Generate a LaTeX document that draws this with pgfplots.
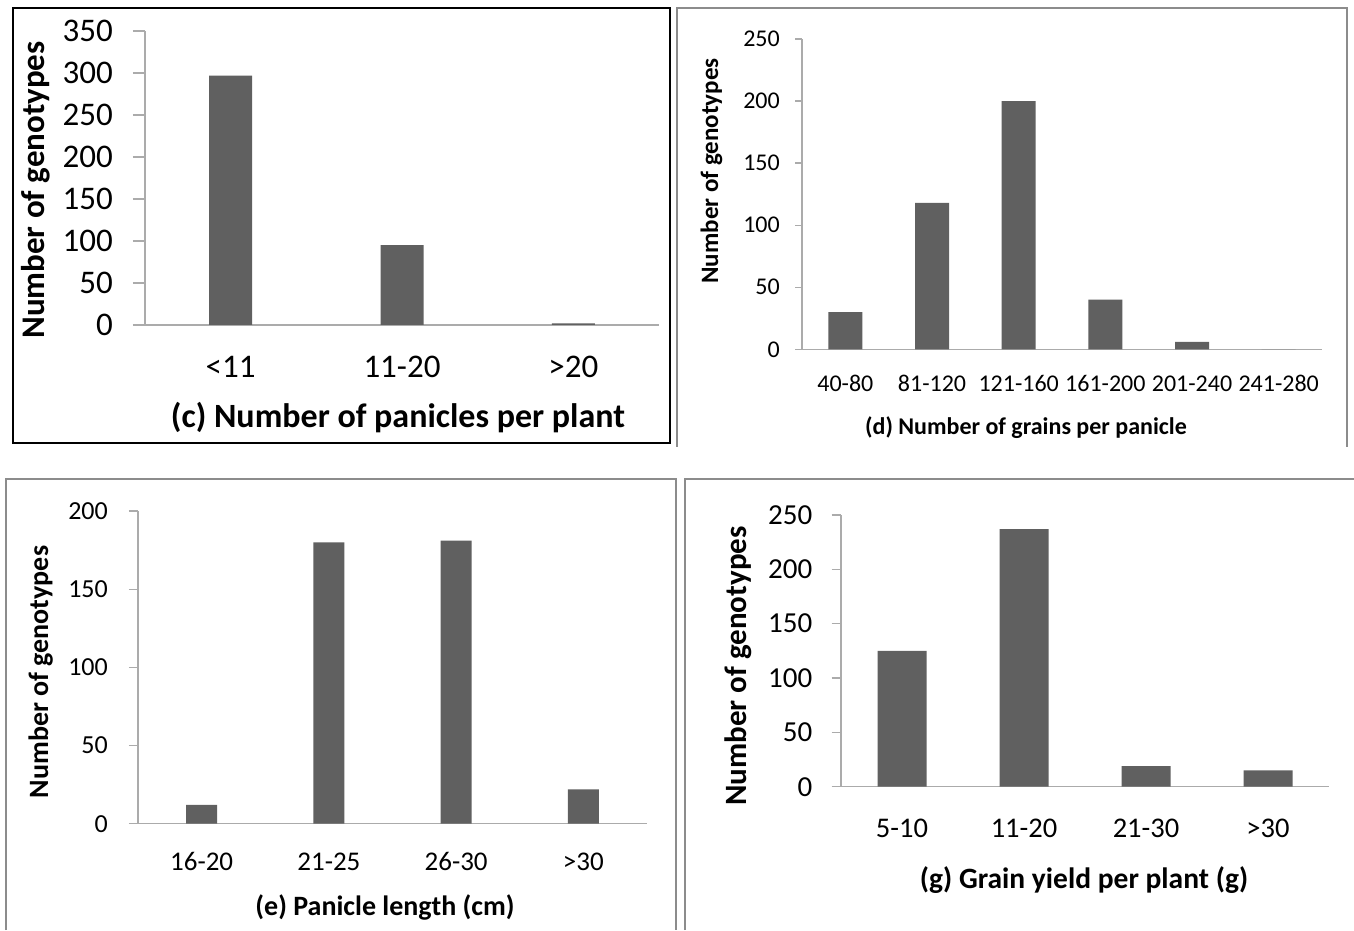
\documentclass[border=0pt]{standalone}
\usepackage{fontspec}
\setmainfont{Carlito}
\usepackage{pgfplots}
\pgfplotsset{compat=1.18}
\definecolor{barc}{HTML}{606060}
\definecolor{axg}{HTML}{ABABAB}
\definecolor{frm}{HTML}{8C8C8C}
\pgfplotsset{panel/.style={
  scale only axis, anchor=south west, clip=false,
  axis lines=left, axis line style={-, draw=axg, line width=1.3pt},
  ymin=0, ybar,
  tick align=outside,
  xtick style={draw=none},
  ytick style={draw=axg, line width=1.3pt},
  /pgf/number format/assume math mode=true,
}}
\begin{document}
\begin{tikzpicture}
\fill[white] (0pt,0pt) rectangle (1354pt,930pt);
% frames
\draw[black, line width=1.2pt] (13pt,922pt) rectangle (670pt,487pt);
\draw[frm, line width=2.5pt] (677pt,483pt) -- (677pt,922pt) -- (1347pt,922pt) -- (1347pt,483pt);
\draw[frm, line width=2.5pt] (6pt,0pt) -- (6pt,451pt) -- (676pt,451pt) -- (676pt,0pt);
\draw[frm, line width=2.5pt] (685pt,0pt) -- (685pt,451pt) -- (1354pt,451pt);

% (c)
\begin{axis}[panel, at={(145pt,605pt)}, width=514pt, height=294pt,
  xmin=-0.5, xmax=2.5, ymax=350, ytick={0,50,...,350},
  bar width=43pt, major tick length=12pt,
  xtick={0,1,2}, xticklabels={{<11},{11-20},{>20}},
  yticklabel style={font=\fontsize{33}{36}\selectfont, anchor=east, inner sep=0pt, xshift=-20pt},
  xticklabel style={font=\fontsize{33}{36}\selectfont, anchor=base, inner sep=0pt, yshift=-41pt}]
\addplot[fill=barc, draw=none] coordinates {(0,297) (1,95) (2,2)};
\end{axis}
\node[font=\bfseries\fontsize{34}{40}\selectfont, anchor=base] at (398pt,502pt) {(c) Number of panicles per plant};
\node[font=\bfseries\fontsize{33}{40}\selectfont, rotate=90, anchor=base] at (44pt,740pt) {Number of genotypes};

% (d)
\begin{axis}[panel, at={(802pt,580.7pt)}, width=520pt, height=310.3pt,
  xmin=-0.5, xmax=5.5, ymax=250, ytick={0,50,...,250},
  bar width=34pt, major tick length=7pt,
  xtick={0,...,5}, xticklabels={40-80,81-120,121-160,161-200,201-240,241-280},
  yticklabel style={font=\fontsize{24}{28}\selectfont, anchor=east, inner sep=0pt, xshift=-15pt},
  xticklabel style={font=\fontsize{24}{28}\selectfont, anchor=base, inner sep=0pt, yshift=-35pt}]
\addplot[fill=barc, draw=none] coordinates {(0,30) (1,118) (2,200) (3,40) (4,6) (5,0)};
\end{axis}
\node[font=\bfseries\fontsize{24}{28}\selectfont, anchor=base] at (1026pt,495pt) {(d) Number of grains per panicle};
\node[font=\bfseries\fontsize{25}{28}\selectfont, rotate=90, anchor=base] at (718pt,759pt) {Number of genotypes};

% (e)
\begin{axis}[panel, at={(138pt,106.3pt)}, width=509pt, height=312.7pt,
  xmin=-0.5, xmax=3.5, ymax=200, ytick={0,50,...,200},
  bar width=31pt, major tick length=9pt,
  xtick={0,...,3}, xticklabels={16-20,21-25,26-30,{>30}},
  yticklabel style={font=\fontsize{26}{30}\selectfont, anchor=east, inner sep=0pt, xshift=-21pt},
  xticklabel style={font=\fontsize{27}{30}\selectfont, anchor=base, inner sep=0pt, yshift=-38pt}]
\addplot[fill=barc, draw=none] coordinates {(0,12) (1,180) (2,181) (3,22)};
\end{axis}
\node[font=\bfseries\fontsize{28}{32}\selectfont, anchor=base] at (385pt,15pt) {(e) Panicle length (cm)};
\node[font=\bfseries\fontsize{28}{32}\selectfont, rotate=90, anchor=base] at (48pt,258pt) {Number of genotypes};

% (g)
\begin{axis}[panel, at={(841pt,143.3pt)}, width=488pt, height=271.7pt,
  xmin=-0.5, xmax=3.5, ymax=250, ytick={0,50,...,250},
  bar width=49pt, major tick length=9.5pt,
  xtick={0,...,3}, xticklabels={5-10,11-20,21-30,{>30}},
  yticklabel style={font=\fontsize{29}{32}\selectfont, anchor=east, inner sep=0pt, xshift=-19pt},
  xticklabel style={font=\fontsize{28.5}{32}\selectfont, anchor=base, inner sep=0pt, yshift=-41pt}]
\addplot[fill=barc, draw=none] coordinates {(0,125) (1,237) (2,19) (3,15)};
\end{axis}
\node[font=\bfseries\fontsize{29.5}{34}\selectfont, anchor=base] at (1084pt,42pt) {(g) Grain yield per plant (g)};
\node[font=\bfseries\fontsize{31}{34}\selectfont, rotate=90, anchor=base] at (746pt,264pt) {Number of genotypes};
\pgfresetboundingbox
\path[use as bounding box] (0pt,0pt) rectangle (1354pt,930pt);
\end{tikzpicture}
\end{document}
